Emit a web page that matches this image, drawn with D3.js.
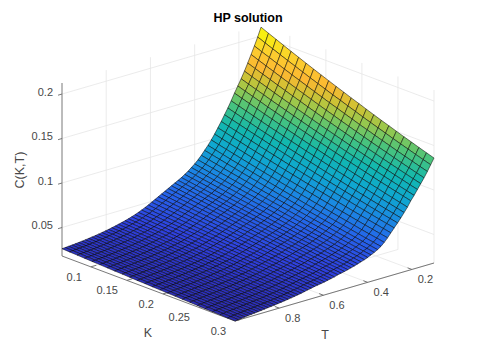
<!DOCTYPE html>
<html><head><meta charset="utf-8">
<style>html,body{margin:0;padding:0;background:#fff}svg{display:block}text{font-family:"Liberation Sans",Arial,sans-serif}</style>
<script src="https://cdn.jsdelivr.net/npm/d3@7"></script></head><body>
<svg id="c" width="480" height="360"></svg>
<script>
const title="HP solution", xName="K", yName="T", zName="C(K,T)";
const kTicks=[0.1,0.15,0.2,0.25,0.3], tTicks=[0.2,0.4,0.6,0.8], cTicks=[0.05,0.1,0.15,0.2];
const kLimits=[0.06,0.3], tLimits=[0.1,1], cLimits=[0.018,0.2124];
const rampPos=[0,0.1,0.2,0.3,0.4,0.5,0.6,0.68,0.74,0.8,0.88,0.95,1];
const ramp=["#2d2cb0","#2f42e0","#2565ea","#1a8ae2","#0fa8d0","#12b8ae","#4cc47a","#9ac84c","#d0c234","#fcb832","#fccf2e","#f8ee12","#f8fa0c"];
const kValues=[0.0600,0.0704,0.0809,0.0913,0.1017,0.1122,0.1226,0.1330,0.1435,0.1539,0.1643,0.1748,0.1852,0.1957,0.2061,0.2165,0.2270,0.2374,0.2478,0.2583,0.2687,0.2791,0.2896,0.3000];
const tValues=[0.100,0.115,0.130,0.145,0.160,0.175,0.190,0.205,0.220,0.235,0.250,0.265,0.280,0.295,0.310,0.325,0.340,0.355,0.370,0.385,0.400,0.415,0.430,0.445,0.460,0.475,0.490,0.505,0.520,0.535,0.550,0.565,0.580,0.595,0.610,0.625,0.640,0.655,0.670,0.685,0.700,0.715,0.730,0.745,0.760,0.775,0.790,0.805,0.820,0.835,0.850,0.865,0.880,0.895,0.910,0.925,0.940,0.955,0.970,0.985,1.000];
// C(K,T) in units of 1e-4: one row per T, one column per K
const cValues=[
[2100,2063,2027,1991,1955,1920,1885,1851,1817,1784,1751,1719,1686,1655,1623,1592,1561,1532,1502,1472,1444,1415,1387,1360],
[2000,1965,1930,1896,1862,1829,1796,1763,1731,1699,1667,1637,1606,1576,1545,1516,1487,1459,1430,1402,1375,1348,1321,1295],
[1910,1876,1843,1810,1777,1745,1713,1682,1650,1620,1589,1560,1530,1501,1471,1444,1415,1388,1361,1333,1307,1281,1255,1230],
[1825,1792,1760,1729,1697,1666,1635,1605,1575,1545,1516,1488,1459,1431,1403,1376,1348,1322,1296,1270,1244,1219,1194,1170],
[1740,1709,1678,1648,1618,1588,1559,1530,1501,1473,1445,1418,1391,1364,1337,1311,1285,1260,1235,1210,1186,1162,1138,1115],
[1660,1630,1601,1572,1542,1514,1486,1458,1431,1404,1377,1351,1325,1299,1273,1248,1223,1199,1175,1151,1128,1105,1082,1060],
[1585,1556,1528,1500,1471,1444,1417,1390,1363,1337,1311,1286,1261,1236,1211,1187,1163,1140,1116,1093,1071,1049,1026,1005],
[1515,1487,1460,1433,1405,1379,1353,1327,1301,1276,1251,1227,1202,1178,1154,1131,1107,1085,1062,1040,1018,997,976,955],
[1445,1418,1391,1364,1337,1311,1285,1260,1235,1210,1185,1162,1138,1114,1090,1068,1045,1023,1001,979,957,936,915,895],
[1370,1344,1318,1293,1267,1242,1218,1194,1169,1146,1122,1100,1077,1054,1031,1010,988,967,946,925,904,884,864,845],
[1300,1275,1250,1226,1201,1177,1154,1130,1107,1084,1062,1040,1018,996,974,954,932,912,892,872,852,833,814,795],
[1235,1211,1187,1164,1140,1117,1094,1072,1050,1028,1006,985,964,943,922,902,882,862,843,824,805,786,768,750],
[1170,1147,1124,1102,1079,1057,1035,1014,992,971,951,931,910,890,870,851,832,813,794,776,758,740,722,705],
[1110,1088,1065,1044,1022,1001,980,959,938,918,898,878,858,839,820,801,782,764,746,728,711,694,677,660],
[1050,1028,1007,986,965,944,924,904,884,864,845,826,807,788,769,752,733,716,699,681,664,648,631,615],
[995,974,953,933,913,893,873,854,835,816,797,779,760,742,724,707,689,672,656,639,622,606,591,575],
[945,925,905,885,866,847,828,809,790,772,754,736,719,701,684,667,650,634,618,602,586,570,555,540],
[900,881,862,843,825,806,788,771,753,736,718,702,685,668,652,636,620,604,589,574,559,544,529,515],
[855,837,819,802,784,768,751,734,717,701,685,670,654,638,623,608,593,579,564,550,536,522,508,495],
[815,798,782,765,749,733,717,701,686,671,655,641,626,611,597,583,569,555,542,528,515,502,489,477],
[780,764,748,733,717,702,687,672,658,643,629,615,601,587,574,560,547,534,521,509,496,484,472,460],
[750,735,720,705,690,676,662,648,633,620,606,593,580,566,553,541,528,516,504,491,479,468,456,445],
[720,706,691,678,664,650,636,623,610,597,584,572,559,547,534,522,510,499,487,476,465,454,443,432],
[695,681,668,655,641,628,615,603,590,578,565,553,541,529,518,506,495,484,473,462,451,441,430,420],
[670,657,644,631,619,606,594,582,570,558,546,535,524,512,501,490,479,469,458,448,438,428,418,408],
[650,637,625,613,600,589,577,565,553,542,531,520,509,498,487,476,466,456,446,435,426,416,406,397],
[630,618,606,594,582,571,560,548,537,526,515,505,494,484,473,463,453,443,434,424,414,405,396,387],
[610,598,587,576,565,554,543,532,521,511,500,491,480,470,460,451,441,432,423,413,404,395,387,378],
[590,579,568,558,547,537,526,516,506,496,486,477,467,458,448,439,430,421,412,403,395,386,378,370],
[570,560,549,539,529,519,510,500,491,481,472,463,454,445,436,427,419,410,402,394,386,378,370,362],
[550,540,530,521,511,501,492,483,474,465,456,447,438,430,421,413,404,396,388,380,373,365,357,350],
[530,521,511,502,493,484,475,467,458,450,441,433,425,417,409,401,393,386,378,371,363,356,349,342],
[510,501,493,484,476,467,459,451,443,435,427,419,412,404,396,389,382,375,368,361,354,347,341,334],
[490,482,474,466,458,450,442,435,427,420,413,406,398,391,384,377,371,364,357,351,345,338,332,326],
[470,462,455,448,440,433,426,419,412,406,399,392,386,379,373,366,360,354,348,342,336,330,325,319],
[452,445,438,432,425,418,412,405,399,393,386,380,374,368,362,357,351,345,340,334,329,323,318,313],
[435,429,422,416,410,404,398,392,386,380,375,369,363,358,352,347,342,337,332,326,321,317,312,307],
[420,414,408,402,396,391,385,379,374,368,363,358,352,347,342,337,332,327,322,317,313,308,303,299],
[405,399,394,388,383,377,372,367,361,356,351,346,341,336,331,327,322,317,313,308,304,300,295,291],
[392,387,381,376,371,366,360,355,350,345,341,336,331,326,322,317,313,308,304,300,295,291,287,283],
[380,375,370,365,359,354,350,345,340,335,330,326,321,317,312,308,304,299,295,291,287,283,279,275],
[370,365,360,355,350,345,340,336,331,326,322,317,313,309,304,300,296,292,288,284,280,276,272,268],
[360,355,350,346,341,336,332,327,323,318,314,310,305,301,297,293,289,285,281,277,273,269,266,262],
[351,346,342,337,333,328,323,319,315,310,306,302,298,294,290,286,282,278,274,270,267,263,260,256],
[342,337,333,328,324,320,315,311,307,303,299,295,291,287,283,279,275,271,268,264,260,257,253,250],
[334,330,325,321,317,312,308,304,300,296,292,288,284,280,277,273,269,266,262,259,255,252,248,245],
[326,322,317,313,309,305,301,297,293,289,285,282,278,274,271,267,263,260,257,253,250,246,243,240],
[319,315,311,307,303,299,295,291,287,283,279,276,272,268,265,261,258,254,251,248,244,241,238,235],
[312,308,304,300,296,292,288,284,281,277,273,270,266,263,259,256,252,249,246,242,239,236,233,230],
[306,302,298,294,290,287,283,279,275,272,268,265,261,258,254,251,248,245,241,238,235,232,229,226],
[300,296,292,289,285,281,277,274,270,267,263,260,256,253,250,246,243,240,237,234,231,228,225,222],
[295,291,287,284,280,276,272,269,265,262,258,255,251,248,245,241,238,235,232,229,226,223,220,217],
[290,286,282,279,275,271,268,264,261,257,254,250,247,244,240,237,234,231,228,225,222,219,216,213],
[285,281,277,274,270,267,263,259,256,253,249,246,243,239,236,233,230,227,224,221,218,215,212,209],
[281,277,273,270,266,263,259,255,252,249,245,242,239,235,232,229,226,223,220,217,214,211,208,205],
[277,273,269,266,262,259,255,251,248,245,241,238,235,231,228,225,222,219,216,213,210,207,204,201],
[273,269,265,262,258,255,251,247,244,241,237,234,231,227,224,221,218,215,212,209,206,203,200,197],
[270,266,262,259,255,251,248,244,241,237,234,230,227,224,220,217,214,211,208,205,202,199,196,193],
[267,263,259,256,252,248,244,241,237,234,230,227,223,220,217,213,210,207,204,201,198,195,192,189],
[264,260,256,252,248,245,241,237,233,230,226,223,219,216,212,209,206,203,199,196,193,190,187,184],
[262,258,254,250,246,242,238,234,231,227,223,220,216,213,209,206,202,199,196,192,189,186,183,180]
];

// oblique projection: each data axis maps to a fraction along a screen vector
const kF=d3.scaleLinear().domain(kLimits).range([0,1]);
const tF=d3.scaleLinear().domain([tLimits[1],tLimits[0]]).range([0,1]);
const cF=d3.scaleLinear().domain(cLimits).range([0,173]);
const ox=62, oy=256, kvx=173, kvy=65, tvx=199, tvy=-58;
const P=(k,t,c)=>[ox+kF(k)*kvx+tF(t)*tvx, oy+kF(k)*kvy+tF(t)*tvy-cF(c)];
const color=d3.scaleLinear().domain(rampPos.map(p=>cLimits[0]+p*(cLimits[1]-cLimits[0]))).range(ramp).clamp(true);
const line=d3.line();
const svg=d3.select("#c");
const kLo=kLimits[0],kHi=kLimits[1],tLo=tLimits[0],tHi=tLimits[1],cLo=cLimits[0],cHi=cLimits[1];

// grid on the three back planes
const grid=[];
tTicks.forEach(t=>{grid.push([P(kLo,t,cLo),P(kLo,t,cHi)]);grid.push([P(kLo,t,cLo),P(kHi,t,cLo)]);});
kTicks.forEach(k=>{grid.push([P(k,tLo,cLo),P(k,tLo,cHi)]);grid.push([P(k,tLo,cLo),P(k,tHi,cLo)]);});
cTicks.forEach(c=>{grid.push([P(kLo,tHi,c),P(kLo,tLo,c)]);grid.push([P(kLo,tLo,c),P(kHi,tLo,c)]);});
svg.append("g").selectAll("path").data(grid).join("path").attr("d",d=>line(d)).attr("fill","none").attr("stroke","#e6e6e6").attr("stroke-width",0.8);

// axes
const axisCol="#6a6a6a";
const axes=[[P(kLo,tHi,cLo),P(kLo,tHi,cHi)],[P(kLo,tHi,cLo),P(kHi,tHi,cLo)],[P(kHi,tHi,cLo),P(kHi,tLo,cLo)]];
kTicks.forEach(k=>axes.push([P(k,tHi,cLo),P(k,tHi-0.025,cLo)]));
tTicks.forEach(t=>axes.push([P(kHi,t,cLo),P(kHi-0.006,t,cLo)]));
cTicks.forEach(c=>axes.push([P(kLo,tHi,c),P(kLo,tHi+0.018,c)]));
svg.append("g").selectAll("path").data(axes).join("path").attr("d",d=>line(d)).attr("fill","none").attr("stroke",axisCol).attr("stroke-width",0.9);

// surface, painted back to front
const cells=[];
tValues.slice(0,-1).forEach((t,i)=>kValues.slice(0,-1).forEach((k,j)=>{
  const v=(a,b)=>cValues[a][b]*1e-4;
  cells.push({z:(v(i,j)+v(i+1,j)+v(i,j+1)+v(i+1,j+1))/4,
    pts:[P(k,t,v(i,j)),P(kValues[j+1],t,v(i,j+1)),P(kValues[j+1],tValues[i+1],v(i+1,j+1)),P(k,tValues[i+1],v(i+1,j))]});
}));
svg.append("g").selectAll("path").data(cells).join("path")
  .attr("d",d=>line(d.pts)+"Z").attr("fill",d=>color(d.z))
  .attr("stroke","#000").attr("stroke-opacity",0.78).attr("stroke-width",0.65).attr("stroke-linejoin","round");

// text
const txt="#484848";
const tick=(x,y,s,anchor)=>svg.append("text").attr("x",x).attr("y",y).attr("text-anchor",anchor).attr("font-size",11).attr("fill",txt).text(s);
cTicks.forEach(c=>{const p=P(kLo,tHi,c);tick(p[0]-9,p[1]+1.8,String(c),"end");});
kTicks.forEach(k=>{const p=P(k,tHi,cLo);tick(p[0]-9,p[1]+14,String(k),"end");});
tTicks.forEach(t=>{const p=P(kHi,t,cLo);tick(p[0]+13.5,p[1]+14,String(t),"middle");});
svg.append("text").attr("x",248).attr("y",22).attr("text-anchor","middle").attr("font-size",12.5).attr("font-weight","bold").attr("fill","#000").text(title);
svg.append("text").attr("x",148).attr("y",337).attr("text-anchor","middle").attr("font-size",12.5).attr("fill",txt).text(xName);
svg.append("text").attr("x",325).attr("y",339).attr("text-anchor","middle").attr("font-size",12.5).attr("fill",txt).text(yName);
svg.append("text").attr("transform","translate(24,170) rotate(-90)").attr("text-anchor","middle").attr("font-size",12.5).attr("fill",txt).text(zName);
</script></body></html>
